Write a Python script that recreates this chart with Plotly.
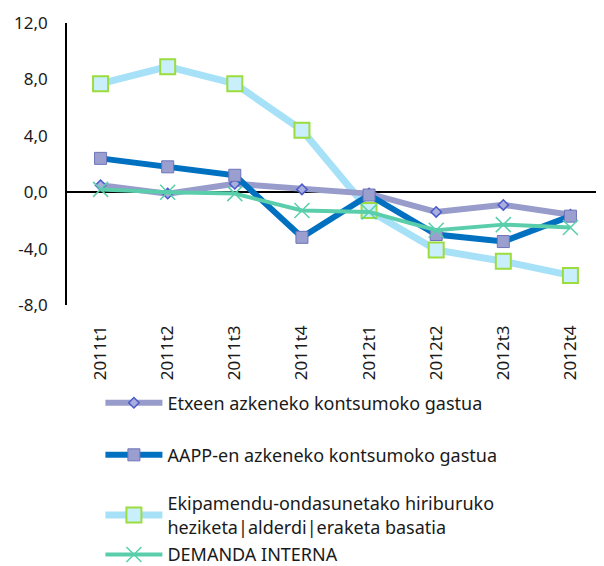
import plotly.graph_objects as go

quarters = ["2011t1", "2011t2", "2011t3", "2011t4", "2012t1", "2012t2", "2012t3", "2012t4"]

etxeen = [0.5, -0.1, 0.6, 0.2, -0.1, -1.4, -0.9, -1.6]
aapp = [2.4, 1.8, 1.2, -3.2, -0.2, -3.0, -3.5, -1.7]
ekipamendu = [7.7, 8.9, 7.7, 4.4, -1.3, -4.1, -4.9, -5.9]
demanda = [0.2, 0.0, -0.1, -1.3, -1.4, -2.7, -2.3, -2.5]

y_ticks = [-8, -4, 0, 4, 8, 12]
y_labels = ["-8,0", "-4,0", "0,0", "4,0", "8,0", "12,0"]

names = [
    "Etxeen azkeneko kontsumoko gastua",
    "AAPP-en azkeneko kontsumoko gastua",
    "Ekipamendu-ondasunetako hiriburuko<br>heziketa|alderdi|eraketa basatia",
    "DEMANDA INTERNA",
]

font = "Noto Sans"
fig = go.Figure()

# Ekipamendu drawn first so the others sit on top
fig.add_trace(go.Scatter(
    x=quarters, y=ekipamendu, name=names[2], mode="lines+markers",
    line=dict(color="#A7E1F8", width=7),
    marker=dict(symbol="square", size=15, color="#C9EEFC",
                line=dict(color="#9BDD3F", width=2)),
    legend="legend3",
))
fig.add_trace(go.Scatter(
    x=quarters, y=etxeen, name=names[0], mode="lines+markers",
    line=dict(color="#979CCB", width=6),
    marker=dict(symbol="diamond", size=8, color="#A9AEDD",
                line=dict(color="#4A5BC8", width=1.5)),
    legend="legend",
))
fig.add_trace(go.Scatter(
    x=quarters, y=aapp, name=names[1], mode="lines+markers",
    line=dict(color="#0070C0", width=6),
    marker=dict(symbol="square", size=12, color="#9A9FD0",
                line=dict(color="#6E74B8", width=1)),
    legend="legend2",
))
fig.add_trace(go.Scatter(
    x=quarters, y=demanda, name=names[3], mode="lines+markers",
    line=dict(color="#5ACEAB", width=4),
    marker=dict(symbol="x-thin", size=15, color="#5ACEAB",
                line=dict(color="#5ACEAB", width=1.5)),
    legend="legend4",
))

def leg(y):
    return dict(xref="container", yref="container", x=0.153, y=y,
                xanchor="left", yanchor="middle", bgcolor="rgba(0,0,0,0)",
                font=dict(family=font, size=18, color="#1a1a1a"), itemwidth=57)

# the page body adds an 8px offset, so margins are set 8px smaller
fig.update_layout(
    width=604, height=566,
    margin=dict(l=59, r=8, t=15, b=269, autoexpand=False),
    plot_bgcolor="white", paper_bgcolor="white",
    showlegend=True,
    legend=leg(0.302),
    legend2=leg(0.210),
    legend3=leg(0.104),
    legend4=leg(0.034),
    font=dict(family=font, size=16, color="#1a1a1a"),
)
fig.update_xaxes(
    type="category", range=[-0.5, 7.5], showgrid=False, showline=False,
    ticks="", tickangle=-90, tickfont=dict(family=font, size=17),
    ticklabelstandoff=16,
)
fig.update_yaxes(
    range=[-8, 12], tickvals=y_ticks, ticktext=y_labels,
    showgrid=False, showline=True, linecolor="black", linewidth=1.5,
    zeroline=True, zerolinecolor="black", zerolinewidth=1.5,
    ticks="", tickfont=dict(family=font, size=17), ticklabelstandoff=14,
)

fig.write_html("out.html")
